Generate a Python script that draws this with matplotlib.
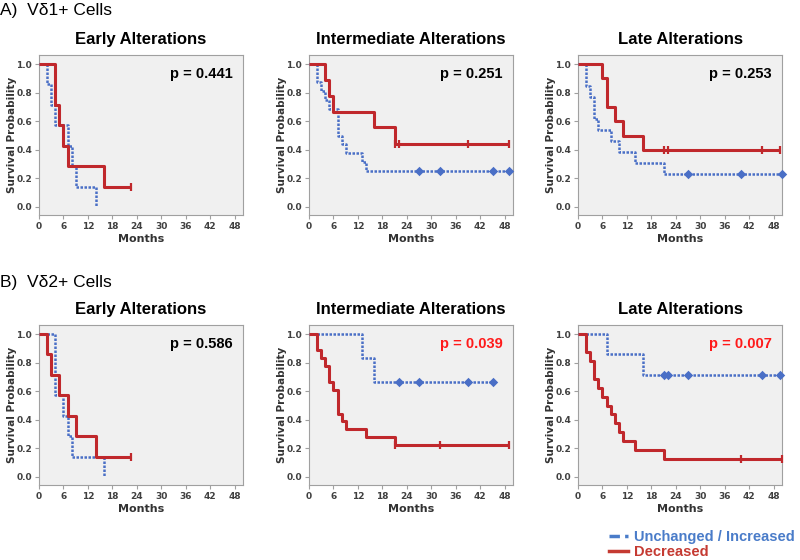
import matplotlib
matplotlib.use("Agg")
import matplotlib.pyplot as plt
from matplotlib.lines import Line2D

# ---------------- data ----------------
row_labels = ["A)  Vδ1+ Cells", "B)  Vδ2+ Cells"]
panel_titles = ["Early Alterations", "Intermediate Alterations", "Late Alterations"]
p_values = [["p = 0.441", "p = 0.251", "p = 0.253"],
            ["p = 0.586", "p = 0.039", "p = 0.007"]]
p_significant = [[False, False, False], [False, True, True]]
x_ticks = [0, 6, 12, 18, 24, 30, 36, 42, 48]
y_ticks = [0.0, 0.2, 0.4, 0.6, 0.8, 1.0]
legend_labels = ["Unchanged / Increased", "Decreased"]

# A) Vd1 -- Early
A1_dec_t = [0, 4, 5, 6, 7, 16]
A1_dec_s = [1.0, 0.714, 0.571, 0.429, 0.286, 0.143]
A1_dec_end = 22.5
A1_dec_cens = [22.5]
A1_unc_t = [0, 2, 3, 4, 7, 8, 9, 14]
A1_unc_s = [1.0, 0.857, 0.714, 0.571, 0.429, 0.286, 0.143, 0.0]
A1_unc_end = 14
A1_unc_cens = []

# A) Vd1 -- Intermediate
A2_dec_t = [0, 4, 5, 6, 16, 21]
A2_dec_s = [1.0, 0.889, 0.778, 0.667, 0.556, 0.444]
A2_dec_end = 49
A2_dec_cens = [21, 22, 39, 49]
A2_unc_t = [0, 2, 3, 4, 5, 7, 8, 9, 13, 14]
A2_unc_s = [1.0, 0.875, 0.8125, 0.75, 0.6875, 0.5, 0.4375, 0.375, 0.3125, 0.25]
A2_unc_end = 49
A2_unc_cens = [27, 32, 45, 49]

# A) Vd1 -- Late
A3_dec_t = [0, 6, 7, 9, 11, 16]
A3_dec_s = [1.0, 0.9, 0.7, 0.6, 0.5, 0.4]
A3_dec_end = 49.5
A3_dec_cens = [21, 22, 45, 49.5]
A3_unc_t = [0, 2, 3, 4, 5, 8, 10, 14, 21]
A3_unc_s = [1.0, 0.846, 0.769, 0.615, 0.538, 0.462, 0.385, 0.308, 0.231]
A3_unc_end = 50
A3_unc_cens = [27, 40, 49.9]

# B) Vd2 -- Early
B1_dec_t = [0, 2, 3, 5, 7, 9, 14]
B1_dec_s = [1.0, 0.857, 0.714, 0.571, 0.429, 0.286, 0.143]
B1_dec_end = 22.5
B1_dec_cens = [22.5]
B1_unc_t = [0, 4, 6, 7, 8, 16]
B1_unc_s = [1.0, 0.571, 0.429, 0.286, 0.143, 0.0]
B1_unc_end = 16
B1_unc_cens = []

# B) Vd2 -- Intermediate
B2_dec_t = [0, 2, 3, 4, 5, 6, 7, 8, 9, 14, 21]
B2_dec_s = [1.0, 0.889, 0.833, 0.778, 0.667, 0.611, 0.444, 0.389, 0.333, 0.278, 0.222]
B2_dec_end = 49
B2_dec_cens = [21, 32, 49]
B2_unc_t = [0, 13, 16]
B2_unc_s = [1.0, 0.833, 0.667]
B2_unc_end = 45
B2_unc_cens = [22, 27, 39, 45]

# B) Vd2 -- Late
B3_dec_t = [0, 2, 3, 4, 5, 6, 7, 8, 9, 10, 11, 14, 21]
B3_dec_s = [1.0, 0.875, 0.8125, 0.6875, 0.625, 0.5625, 0.5, 0.4375, 0.375,
            0.3125, 0.25, 0.1875, 0.125]
B3_dec_end = 50
B3_dec_cens = [40, 49.9]
B3_unc_t = [0, 7, 16]
B3_unc_s = [1.0, 0.857, 0.714]
B3_unc_end = 49.5
B3_unc_cens = [21, 22, 27, 45, 49.5]

panels = [
    [(A1_dec_t, A1_dec_s, A1_dec_end, A1_dec_cens, A1_unc_t, A1_unc_s, A1_unc_end, A1_unc_cens),
     (A2_dec_t, A2_dec_s, A2_dec_end, A2_dec_cens, A2_unc_t, A2_unc_s, A2_unc_end, A2_unc_cens),
     (A3_dec_t, A3_dec_s, A3_dec_end, A3_dec_cens, A3_unc_t, A3_unc_s, A3_unc_end, A3_unc_cens)],
    [(B1_dec_t, B1_dec_s, B1_dec_end, B1_dec_cens, B1_unc_t, B1_unc_s, B1_unc_end, B1_unc_cens),
     (B2_dec_t, B2_dec_s, B2_dec_end, B2_dec_cens, B2_unc_t, B2_unc_s, B2_unc_end, B2_unc_cens),
     (B3_dec_t, B3_dec_s, B3_dec_end, B3_dec_cens, B3_unc_t, B3_unc_s, B3_unc_end, B3_unc_cens)],
]

# ---------------- styling ----------------
RED = "#c0282c"
BLUE = "#4a6fc6"
LEG_BLUE = "#4a7cc9"
LEG_RED = "#c53a32"
TITLE_FONT = "Liberation Sans"

W, H = 800, 560
fig = plt.figure(figsize=(8, 5.6), dpi=100)

col_lefts = [39, 309, 578]
col_width = 204
row_tops = [55, 325]
row_height = 160


def level_at(t_list, s_list, x):
    val = s_list[0]
    for tt, ss in zip(t_list, s_list):
        if x >= tt:
            val = ss
    return val


def draw_curve(ax, t, s, end, cens, color, ls, lw, marker, ms, z):
    xs = list(t) + [end]
    ys = list(s) + [s[-1]]
    ax.step(xs, ys, where="post", color=color, lw=lw, ls=ls, zorder=z,
            solid_capstyle="butt")
    if cens:
        cy = [level_at(t, s, c) for c in cens]
        ax.plot(cens, cy, ls="none", marker=marker, ms=ms, color=color,
                mew=1.6, zorder=z + 1, clip_on=False)


for r in range(2):
    for c in range(3):
        left = col_lefts[c] / W
        bottom = 1 - (row_tops[r] + row_height) / H
        ax = fig.add_axes([left, bottom, col_width / W, row_height / H])
        ax.set_facecolor("#f0f0f0")
        for sp in ax.spines.values():
            sp.set_color("#a0a0a0")
            sp.set_linewidth(0.8)
        ax.set_xlim(0, 50)
        ax.set_ylim(-0.056, 1.063)
        ax.set_xticks(x_ticks)
        ax.set_yticks(y_ticks)
        ax.set_yticklabels([f"{v:.1f}" for v in y_ticks])
        ax.tick_params(axis="both", labelsize=6.5, colors="#a0a0a0",
                       labelcolor="#404040", length=3, width=0.8, pad=2)
        for lab in ax.get_xticklabels() + ax.get_yticklabels():
            lab.set_fontweight("bold")
            lab.set_family("DejaVu Sans")

        (dt, ds, de, dc, ut, us, ue, uc) = panels[r][c]
        draw_curve(ax, ut, us, ue, uc, BLUE, (0, (1, 0.6)), 1.8, "D", 3.2, 3)
        draw_curve(ax, dt, ds, de, dc, RED, "-", 2.2, "|", 5.5, 5)

        ax.set_title(panel_titles[c], fontsize=12, fontweight="bold",
                     family=TITLE_FONT, pad=8)
        ax.set_xlabel("Months", fontsize=8, fontweight="bold", color="#333333",
                      family="DejaVu Sans", labelpad=2)
        ax.set_ylabel("Survival Probability", fontsize=7.5, fontweight="bold",
                      color="#333333", family="DejaVu Sans", va="center")
        ax.yaxis.set_label_coords(-27 / col_width, 0.5)
        ax.text(0.95, 0.88, p_values[r][c], transform=ax.transAxes,
                ha="right", va="center", fontsize=10.5, fontweight="bold",
                family=TITLE_FONT,
                color="#ff1a1a" if p_significant[r][c] else "#000000")

# row labels
fig.text(0 / W, 1 - 10 / H, row_labels[0], fontsize=12.5, family=TITLE_FONT,
         ha="left", va="center")
fig.text(0 / W, 1 - 282 / H, row_labels[1], fontsize=12.5, family=TITLE_FONT,
         ha="left", va="center")

# legend
handles = [Line2D([0], [0], color=LEG_BLUE, lw=2.5, ls=(0, (3, 1.5, 1, 1.5))),
           Line2D([0], [0], color=LEG_RED, lw=2.5, ls="-")]
leg = fig.legend(handles, legend_labels, loc="lower right",
                 bbox_to_anchor=(1.01, -0.022), frameon=False,
                 prop={"family": TITLE_FONT, "weight": "bold", "size": 10.5},
                 handlelength=1.3, handletextpad=0.4, labelspacing=0.1)
leg.get_texts()[0].set_color(LEG_BLUE)
leg.get_texts()[1].set_color(LEG_RED)

fig.savefig("out.png", dpi=100)
